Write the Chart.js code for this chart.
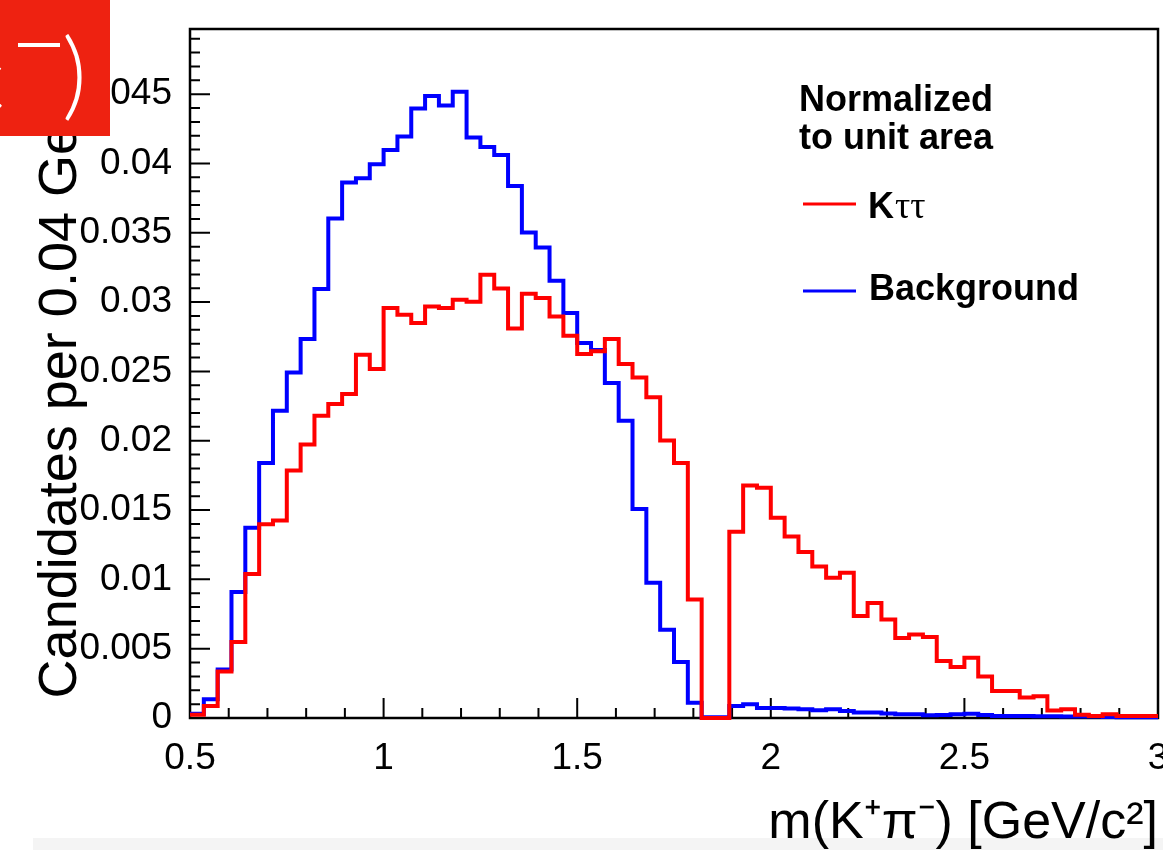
<!DOCTYPE html>
<html>
<head>
<meta charset="utf-8">
<script src="https://cdn.jsdelivr.net/npm/chart.js@4/dist/chart.umd.min.js"></script>
<style>
  html, body { margin: 0; padding: 0; background: #fff; }
  #wrap { width: 1163px; height: 850px; }
</style>
</head>
<body>
<div id="wrap"><canvas id="histo" width="1163" height="850"></canvas></div>
<script>
// Histogram binning: 70 bins between 0.5 and 3.0 GeV
const binLow = 0.5;
const binHigh = 3.0;
const nBins = 70;

// Signal (K tau tau) bin contents, normalized to unit area
const signalValues = [
  0.00024, 0.00087, 0.00336, 0.00548, 0.01038, 0.01398, 0.01424, 0.01785, 0.01972, 0.02181,
  0.02265, 0.02337, 0.02620, 0.02517, 0.02957, 0.02909, 0.02849, 0.02969, 0.02957, 0.03017,
  0.03002, 0.03197, 0.03099, 0.02810, 0.03060, 0.03030, 0.02897, 0.02757, 0.02625, 0.02645,
  0.02733, 0.02553, 0.02457, 0.02313, 0.02001, 0.01840, 0.00854, 0.00000, 0.00000, 0.01343,
  0.01677, 0.01660, 0.01444, 0.01309, 0.01197, 0.01093, 0.01012, 0.01048, 0.00735, 0.00830,
  0.00711, 0.00577, 0.00603, 0.00584, 0.00411, 0.00368, 0.00435, 0.00300, 0.00195, 0.00195,
  0.00147, 0.00156, 0.00055, 0.00063, 0.00024, 0.00015, 0.00027, 0.00015, 0.00015, 0.00015
];

// Background bin contents, normalized to unit area
const backgroundValues = [
  0.00030, 0.00135, 0.00350, 0.00908, 0.01372, 0.01840, 0.02217, 0.02493, 0.02733, 0.03094,
  0.03603, 0.03862, 0.03893, 0.03994, 0.04097, 0.04194, 0.04396, 0.04486, 0.04419, 0.04518,
  0.04187, 0.04119, 0.04061, 0.03838, 0.03502, 0.03394, 0.03154, 0.02921, 0.02705, 0.02654,
  0.02416, 0.02145, 0.01507, 0.00976, 0.00637, 0.00404, 0.00110, 0.00005, 0.00005, 0.00087,
  0.00099, 0.00073, 0.00073, 0.00068, 0.00063, 0.00056, 0.00063, 0.00051, 0.00040, 0.00040,
  0.00032, 0.00027, 0.00027, 0.00020, 0.00022, 0.00027, 0.00030, 0.00022, 0.00015, 0.00015,
  0.00015, 0.00012, 0.00012, 0.00010, 0.00010, 0.00010, 0.00008, 0.00005, 0.00005, 0.00005
];

// Axis ticks
const xTickValues = [0.5, 1, 1.5, 2, 2.5, 3];
const xTickLabels = ['0.5', '1', '1.5', '2', '2.5', '3'];
const yTickValues = [0, 0.005, 0.01, 0.015, 0.02, 0.025, 0.03, 0.035, 0.04, 0.045];
const yTickLabels = ['0', '0.005', '0.01', '0.015', '0.02', '0.025', '0.03', '0.035', '0.04', '0.045'];

const seriesNames = ['K\u03c4\u03c4', 'Background'];
const seriesColors = ['#ff0000', '#0000ff'];

const FONT = '"Liberation Sans", Arial, Helvetica, sans-serif';

// turn bin contents into step points (left edge of each bin + closing point)
function toSteps(values) {
  const w = (binHigh - binLow) / nBins;
  const pts = values.map((v, i) => ({ x: binLow + i * w, y: v }));
  pts.push({ x: binHigh, y: values[values.length - 1] });
  return pts;
}

// ROOT-like frame, inward ticks, legend and the red overlay box
const rootStyle = {
  id: 'rootStyle',
  beforeDraw(chart) {
    const ctx = chart.ctx;
    ctx.save();
    ctx.fillStyle = '#ffffff';
    ctx.fillRect(0, 0, chart.width, chart.height);
    ctx.fillStyle = '#f4f4f4';
    ctx.fillRect(33, 838, chart.width - 33, chart.height - 838);
    ctx.restore();
  },
  beforeDatasetsDraw(chart) {
    const ctx = chart.ctx;
    const a = chart.chartArea;
    const xs = chart.scales.x, ys = chart.scales.y;
    ctx.save();
    ctx.strokeStyle = '#000';
    ctx.lineWidth = 2.5;
    ctx.strokeRect(a.left, a.top, a.right - a.left, a.bottom - a.top);

    ctx.lineWidth = 2;
    ctx.beginPath();
    // y ticks: major every 0.005, minor every 0.001
    for (let k = 0; k * 0.001 <= ys.max + 1e-9; k++) {
      const py = ys.getPixelForValue(k * 0.001);
      const len = (k % 5 === 0) ? 20 : 10;
      ctx.moveTo(a.left, py);
      ctx.lineTo(a.left + len, py);
    }
    // x ticks: major every 0.5, minor every 0.1
    for (let k = 0; k <= 25; k++) {
      const px = xs.getPixelForValue(binLow + k * 0.1);
      const len = (k % 5 === 0) ? 20 : 10;
      ctx.moveTo(px, a.bottom);
      ctx.lineTo(px, a.bottom - len);
    }
    ctx.stroke();

    // x tick labels
    ctx.fillStyle = '#000';
    ctx.font = '37px ' + FONT;
    ctx.textAlign = 'center';
    ctx.textBaseline = 'alphabetic';
    xTickValues.forEach((v, i) => {
      ctx.fillText(xTickLabels[i], xs.getPixelForValue(v), 769);
    });
    ctx.restore();
  },
  afterDraw(chart) {
    const ctx = chart.ctx;
    ctx.save();
    // legend header
    ctx.fillStyle = '#000';
    ctx.textAlign = 'left';
    ctx.textBaseline = 'alphabetic';
    ctx.font = 'bold 36px ' + FONT;
    ctx.fillText('Normalized', 799, 111);
    ctx.fillText('to unit area', 799, 149);
    // legend entries
    const rows = [{ line: 204, base: 218 }, { line: 291, base: 300 }];
    chart.data.datasets.forEach((ds, i) => {
      const r = rows[i];
      ctx.strokeStyle = ds.borderColor;
      ctx.lineWidth = 3;
      ctx.beginPath();
      ctx.moveTo(803, r.line);
      ctx.lineTo(856, r.line);
      ctx.stroke();
      ctx.fillStyle = '#000';
      const label = ds.label;
      if (label.indexOf('\u03c4') > 0) {
        ctx.font = 'bold 36px ' + FONT;
        ctx.fillText(label[0], 868, r.base);
        const w = ctx.measureText(label[0]).width;
        ctx.font = '38px "Liberation Serif", "Times New Roman", serif';
        ctx.fillText(label.slice(1), 868 + w + 1, r.base);
      } else {
        ctx.font = 'bold 36px ' + FONT;
        ctx.fillText(label, 869, r.base);
      }
    });

    // red overlay box in the corner
    ctx.fillStyle = '#ee2211';
    ctx.fillRect(0, 0, 110, 136);
    ctx.fillStyle = '#ffffff';
    ctx.font = '300 96px Lato, "DejaVu Sans", sans-serif';
    ctx.fillText(')', 62, 108);
    ctx.fillText('c', -40, 112);
    ctx.fillRect(18, 43, 42, 4);
    ctx.restore();
  }
};

const ctx = document.getElementById('histo').getContext('2d');

const histoChart = new Chart(ctx, {
  type: 'line',
  data: {
    datasets: [
      {
        label: seriesNames[0],
        data: toSteps(signalValues),
        borderColor: seriesColors[0],
        borderWidth: 4,
        stepped: 'before',
        pointRadius: 0,
        fill: false,
        clip: 6
      },
      {
        label: seriesNames[1],
        data: toSteps(backgroundValues),
        borderColor: seriesColors[1],
        borderWidth: 4,
        stepped: 'before',
        pointRadius: 0,
        fill: false,
        clip: 6
      }
    ]
  },
  options: {
    responsive: false,
    animation: false,
    devicePixelRatio: 1,
    layout: { padding: { left: 0, top: 29, right: 5, bottom: 0 } },
    plugins: {
      legend: { display: false },
      tooltip: { enabled: false }
    },
    scales: {
      x: {
        type: 'linear',
        min: binLow,
        max: binHigh,
        grid: { display: false, drawTicks: false },
        border: { display: false },
        ticks: { display: false },
        title: {
          display: true,
          text: 'm(K\u207a\u03c0\u207b) [GeV/c\u00b2]',
          align: 'end',
          color: '#000',
          font: { family: FONT, size: 52, lineHeight: 1 },
          padding: { top: 0, bottom: 0 }
        },
        afterFit(s) {
          s.height = 132;
          s.paddingLeft = 0;
          s.paddingRight = 0;
        }
      },
      y: {
        min: 0,
        max: 0.0497,
        grid: { display: false, drawTicks: false },
        border: { display: false },
        afterBuildTicks(s) {
          s.ticks = yTickValues.map(v => ({ value: v }));
        },
        ticks: {
          autoSkip: false,
          padding: 18,
          color: '#000',
          font: { family: FONT, size: 37 },
          callback: (v) => {
            const i = yTickValues.findIndex(t => Math.abs(t - v) < 1e-9);
            return i >= 0 ? yTickLabels[i] : '';
          }
        },
        title: {
          display: true,
          text: 'Candidates per 0.04 GeV/c\u00b2',
          align: 'end',
          color: '#000',
          font: { family: FONT, size: 54 },
          padding: { top: 29, bottom: 0 }
        },
        afterFit(s) {
          s.width = 190;
          s.paddingTop = 0;
          s.paddingBottom = 0;
        }
      }
    }
  },
  plugins: [rootStyle]
});
</script>
</body>
</html>
